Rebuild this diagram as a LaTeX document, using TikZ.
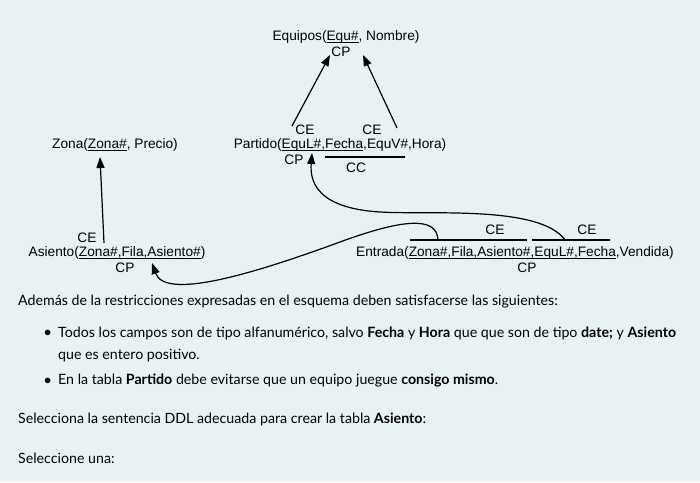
\documentclass[tikz,border=0pt]{standalone}
\usepackage{fontspec}
\setmainfont{Lato}
\newfontfamily\diag{Liberation Sans}
\usetikzlibrary{arrows.meta, positioning}
\definecolor{bgblue}{HTML}{E8F1F4}
\newcommand\keyul[1]{\underline{\smash{#1}}}
\begin{document}
\begin{tikzpicture}[x=1pt,y=-1pt,
		tbl/.style={font=\diag\fontsize{13.7}{16}\selectfont, inner sep=1pt},
		lbl/.style={font=\diag\fontsize{13.7}{16}\selectfont, inner sep=1pt},
		txt/.style={font=\fontsize{14.2}{17}\selectfont, anchor=west, inner sep=0pt},
		ref/.style={-{Triangle[length=11pt,width=8pt]}, line width=1.2pt}
		]
		\fill[bgblue] (0,0) rectangle (700,482);
		\useasboundingbox (0,0) rectangle (700,482);

		% tables
		\node[tbl](Equ) at (346,37){Equipos(\keyul{Equ\#}, Nombre)};
		\node[lbl](EquCP) at (341,52){CP};
		\node[tbl](Zon) at (115,145){Zona(\keyul{Zona\#}, Precio)};
		\node[tbl](Par) at (340,145){Partido(\keyul{EquL\#,Fecha},EquV\#,Hora)};
		\node[lbl](ParCE1) at (305,130){CE};
		\node[lbl](ParCE2) at (372,130){CE};
		\node[lbl](ParCP) at (294,160){CP};
		\node[lbl](ParCC) at (356,168){CC};
		\node[tbl](Asi) at (117,253){Asiento(\keyul{Zona\#,Fila,Asiento\#})};
		\node[lbl](AsiCE) at (87,238){CE};
		\node[lbl](AsiCP) at (125,268){CP};
		\node[tbl](Ent) at (515,253){Entrada(\keyul{Zona\#,Fila,Asiento\#,EquL\#,Fecha},Vendida)};
		\node[lbl](EntCE1) at (495,230){CE};
		\node[lbl](EntCE2) at (587,230){CE};
		\node[lbl](EntCP) at (527,268){CP};

		% key lines
		\draw[line width=1.2pt] (325,157) coordinate(CCa) -- (405,157) coordinate(CCb);
		\draw[line width=1.2pt] (410,240) coordinate(E1a) -- (527,240) coordinate(E1b);
		\draw[line width=1.2pt] (532,240) coordinate(E2a) -- (610,240) coordinate(E2b);

		% references
		\coordinate (p1) at (292,126);
		\coordinate (p1t) at (330,55);
		\coordinate (p2) at (397,128);
		\coordinate (p2t) at (363,55);
		\coordinate (a1) at (104,243);
		\coordinate (a1t) at (100,157);
		\coordinate (e2) at (565,240);
		\coordinate (e2t) at (312,153);
		\coordinate (e1) at (438,240);
		\coordinate (e1t) at (152,263);
		\draw[ref] (p1) -- (p1t);
		\draw[ref] (p2) -- (p2t);
		\draw[ref] (a1) -- (a1t);
		\draw[ref] (e2) .. controls (540,205) and (430,215) .. (380,212)
			.. controls (315,208) and (310,180) .. (e2t);
		\draw[ref] (e1) .. controls (437,215) and (400,220) .. (340,242)
			.. controls (250,275) and (165,300) .. (e1t);

		% statement
		\node[txt](t1) at (18,302){Además de la restricciones expresadas en el esquema deben satisfacerse las siguientes:};
		\node[txt](b1) at (44,333){$\bullet$};
		\node[txt](t2) at (58,333){Todos los campos son de tipo alfanumérico, salvo \textbf{Fecha} y \textbf{Hora} que que son de tipo \textbf{date;} y \textbf{Asiento}};
		\node[txt](t3) at (58,356){que es entero positivo.};
		\node[txt](b2) at (44,381){$\bullet$};
		\node[txt](t4) at (58,381){En la tabla \textbf{Partido} debe evitarse que un equipo juegue \textbf{consigo mismo}.};
		\node[txt](t5) at (18,419){Selecciona la sentencia DDL adecuada para crear la tabla \textbf{Asiento}:};
		\node[txt](t6) at (18,458){Seleccione una:};
	\end{tikzpicture}
\end{document}
